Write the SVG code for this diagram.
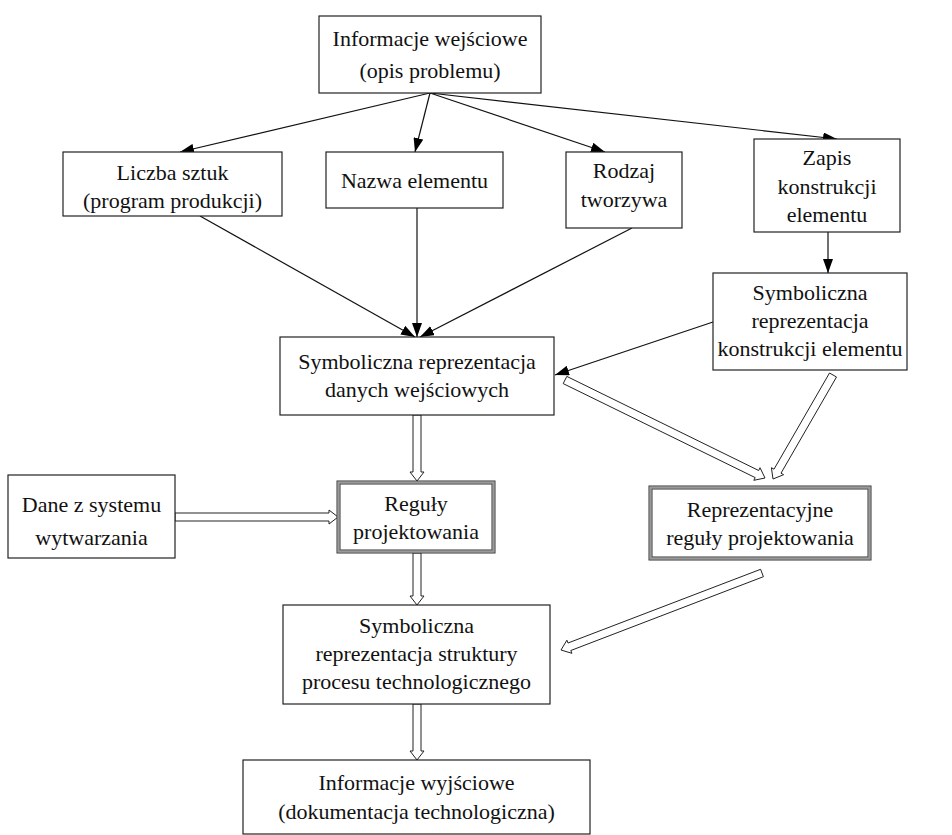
<svg xmlns="http://www.w3.org/2000/svg" width="952" height="835" viewBox="0 0 952 835">
<defs>
<marker id="ah" markerWidth="14" markerHeight="10" refX="14" refY="5" orient="auto" markerUnits="userSpaceOnUse">
<path d="M0,0 L14,5 L0,10 Z" fill="#000"/>
</marker>
<style>
.box{fill:#fff;stroke:#222;stroke-width:1.2}
.dbl{fill:none;stroke:#333;stroke-width:1}
.dbm{fill:none;stroke:#999;stroke-width:2}
text{font-family:'Liberation Serif','Times New Roman','Noto Serif','DejaVu Serif','Tinos','Nimbus Roman','FreeSerif',Times,serif;font-size:22px;fill:#111;text-anchor:middle}
.ln{stroke:#111;stroke-width:1.2;fill:none;marker-end:url(#ah)}
.ha{fill:#fff;stroke:#222;stroke-width:1}
</style>
</defs>
<rect width="952" height="835" fill="#fff"/>
<g id="connectors">
<line class="ln" x1="430" y1="93" x2="180" y2="152"/>
<line class="ln" x1="430" y1="93" x2="415" y2="152"/>
<line class="ln" x1="430" y1="93" x2="605" y2="152"/>
<line class="ln" x1="430" y1="93" x2="837" y2="139"/>
<line class="ln" x1="200" y1="216" x2="415" y2="337"/>
<line class="ln" x1="417" y1="208" x2="417" y2="337"/>
<line class="ln" x1="632" y1="228" x2="420" y2="337"/>
<line class="ln" x1="828" y1="232" x2="828" y2="273"/>
<line class="ln" x1="713" y1="322" x2="555" y2="375"/>
<polygon class="ha" points="413,415 413,472 410,472 417,481 424,472 421,472 421,415"/>
<polygon class="ha" points="413,553 413,596 410,596 417,605 424,596 421,596 421,553"/>
<polygon class="ha" points="413,704 413,751 410,751 417,760 424,751 421,751 421,704"/>
<polygon class="ha" points="175,513 329,513 329,510 338,517 329,524 329,521 175,521"/>
<polygon class="ha" points="563.2,383.6 755.2,477.6 753.8,480.3 765,478 760,467.7 758.7,470.5 566.8,376.4"/>
<polygon class="ha" points="829.5,373 774,469.2 771.4,467.7 773,479 783.6,474.7 781,473.2 836.5,377"/>
<polygon class="ha" points="760.6,569.3 568,643 566.9,640.2 561,650 571.9,653.3 570.8,650.5 763.4,576.7"/>
</g>
<g id="n-input">
<rect class="box" x="319" y="16" width="222" height="77"/>
<text x="430" y="46">Informacje wejściowe</text>
<text x="430" y="78">(opis problemu)</text>
</g>
<g id="n-liczba">
<rect class="box" x="63" y="152" width="219" height="64"/>
<text x="172.5" y="180">Liczba sztuk</text>
<text x="172.5" y="208">(program produkcji)</text>
</g>
<g id="n-nazwa">
<rect class="box" x="326" y="152" width="177" height="56"/>
<text x="414.5" y="188">Nazwa elementu</text>
</g>
<g id="n-rodzaj">
<rect class="box" x="566" y="152" width="116" height="76"/>
<text x="624" y="178">Rodzaj</text>
<text x="624" y="207">tworzywa</text>
</g>
<g id="n-zapis">
<rect class="box" x="754" y="139" width="146" height="93"/>
<text x="827" y="165">Zapis</text>
<text x="827" y="194">konstrukcji</text>
<text x="827" y="222">elementu</text>
</g>
<g id="n-symkonstr">
<rect class="box" x="713" y="273" width="194" height="97"/>
<text x="810" y="300">Symboliczna</text>
<text x="810" y="328">reprezentacja</text>
<text x="810" y="356">konstrukcji elementu</text>
</g>
<g id="n-danych">
<rect class="box" x="280" y="337" width="274" height="78"/>
<text x="417" y="369">Symboliczna reprezentacja</text>
<text x="417" y="397">danych wejściowych</text>
</g>
<g id="n-dane">
<rect class="box" x="8" y="475" width="167" height="83"/>
<text x="91.5" y="512">Dane z systemu</text>
<text x="91.5" y="545">wytwarzania</text>
</g>
<g id="n-reguly">
<rect x="337" y="481" width="158" height="72" fill="#fff"/>
<rect class="dbm" x="338.5" y="482.5" width="155" height="69"/>
<rect class="dbl" x="337" y="481" width="158" height="72"/>
<rect class="dbl" x="340" y="484" width="152" height="66"/>
<text x="416" y="511">Reguły</text>
<text x="416" y="539">projektowania</text>
</g>
<g id="n-reprez">
<rect x="649" y="486" width="222" height="74" fill="#fff"/>
<rect class="dbm" x="650.5" y="487.5" width="219" height="71"/>
<rect class="dbl" x="649" y="486" width="222" height="74"/>
<rect class="dbl" x="652" y="489" width="216" height="68"/>
<text x="760" y="517">Reprezentacyjne</text>
<text x="760" y="545">reguły projektowania</text>
</g>
<g id="n-struktury">
<rect class="box" x="283" y="605" width="267" height="99"/>
<text x="416.5" y="633">Symboliczna</text>
<text x="416.5" y="661">reprezentacja struktury</text>
<text x="416.5" y="689">procesu technologicznego</text>
</g>
<g id="n-output">
<rect class="box" x="243" y="760" width="347" height="74"/>
<text x="416.5" y="790">Informacje wyjściowe</text>
<text x="416.5" y="819">(dokumentacja technologiczna)</text>
</g>
</svg>
